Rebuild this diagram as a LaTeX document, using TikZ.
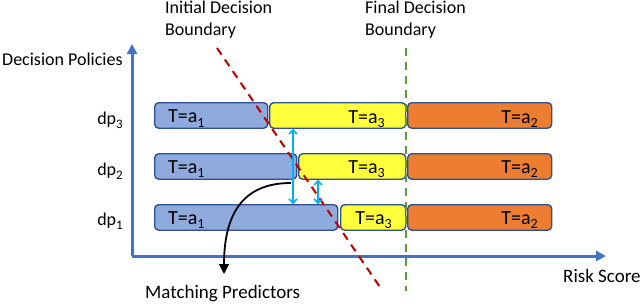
\documentclass[tikz,border=0pt]{standalone}
\usepackage{fontspec}
\setmainfont{Carlito}
\usetikzlibrary{arrows.meta}
\definecolor{boxblue}{HTML}{8FAADC}
\definecolor{boxyellow}{HTML}{FFFF3C}
\definecolor{boxorange}{HTML}{ED7D31}
\definecolor{edgeblue}{HTML}{2F528F}
\definecolor{axisblue}{HTML}{4472C4}
\definecolor{bndred}{HTML}{C00000}
\definecolor{bndgreen}{HTML}{5E9A3C}
\definecolor{arrcyan}{HTML}{00B0F0}
\newcommand{\subA}[1]{\raisebox{-4.5pt}{\fontsize{14}{14}\selectfont #1}}
\newcommand{\subB}[1]{\raisebox{-4pt}{\fontsize{13}{13}\selectfont #1}}
\tikzset{
  seg/.style={draw=edgeblue, line width=1.4pt, rounded corners=4pt, inner sep=0pt,
    anchor=north west, minimum height=25.5pt},
  segblue/.style={seg, fill=boxblue},
  segyellow/.style={seg, fill=boxyellow},
  segorange/.style={seg, fill=boxorange},
  boxtxt/.style={font=\fontsize{20}{22}\selectfont, inner sep=0pt},
  lbltxt/.style={font=\fontsize{18}{22}\selectfont, inner sep=0pt},
  bigtxt/.style={font=\fontsize{19}{22}\selectfont, inner sep=0pt},
  axisline/.style={draw=axisblue, line width=3pt, -{Triangle[length=10pt,width=10pt]}},
  matcharr/.style={draw=arrcyan, line width=1.5pt,
    {Straight Barb[length=4pt,width=8pt]}-{Straight Barb[length=4pt,width=8pt]}},
  bnd/.style={line width=2pt, dash pattern=on 8pt off 6pt},
}
\begin{document}
\begin{tikzpicture}[x=1pt,y=-1pt]
\useasboundingbox (0,0) rectangle (640,303);
% axes
\coordinate (origin) at (132,256);
\coordinate (ytop) at (132,44);
\coordinate (xend) at (606,256);
\draw[axisline] (origin) -- (ytop);
\draw[axisline] (origin) -- (xend);
% boxes dp3
\node[segblue, minimum width=113pt] (b3) at (154,102) {};
\node[segyellow, minimum width=136pt] (y3) at (269,102) {};
\node[segorange, minimum width=144pt] (o3) at (407,102) {};
% boxes dp2
\node[segblue, minimum width=142pt] (b2) at (154,153) {};
\node[segyellow, minimum width=107pt] (y2) at (298,153) {};
\node[segorange, minimum width=144pt] (o2) at (407,153) {};
% boxes dp1
\node[segblue, minimum width=183pt] (b1) at (154,204) {};
\node[segyellow, minimum width=65pt] (y1) at (340,204) {};
\node[segorange, minimum width=144pt] (o1) at (407,204) {};
% box labels
\node[boxtxt, anchor=base west] (tb3) at (168,122.5) {T=a\subA{1}};
\node[boxtxt, anchor=base east] (ty3) at (385,123) {T=a\subA{3}};
\node[boxtxt, anchor=base east] (to3) at (538,123) {T=a\subA{2}};
\node[boxtxt, anchor=base west] (tb2) at (168,173) {T=a\subA{1}};
\node[boxtxt, anchor=base east] (ty2) at (385,173) {T=a\subA{3}};
\node[boxtxt, anchor=base east] (to2) at (538,173) {T=a\subA{2}};
\node[boxtxt, anchor=base west] (tb1) at (168,224) {T=a\subA{1}};
\node[boxtxt, anchor=base east] (ty1) at (392,224) {T=a\subA{3}};
\node[boxtxt, anchor=base east] (to1) at (538,224) {T=a\subA{2}};
% row labels
\node[lbltxt, anchor=base east] (dp3) at (123,124) {dp\subB{3}};
\node[lbltxt, anchor=base east] (dp2) at (123,175) {dp\subB{2}};
\node[lbltxt, anchor=base east] (dp1) at (123,225) {dp\subB{1}};
% texts
\node[lbltxt, anchor=base west] (dpol) at (2,65) {Decision Policies};
\node[lbltxt, anchor=base west, align=left] (ini) at (165,35) {Initial Decision\\Boundary};
\node[lbltxt, anchor=base west, align=left] (fin) at (365,35) {Final Decision\\Boundary};
\node[bigtxt, anchor=base west] (risk) at (563,282) {Risk Score};
\node[bigtxt, anchor=base west] (mp) at (145,298) {Matching Predictors};
% boundaries
\coordinate (r1) at (217,48);
\coordinate (r2) at (382,290);
\coordinate (g1) at (406,48);
\coordinate (g2) at (406,291);
\draw[bnd, bndred] (r1) -- (r2);
\draw[bnd, bndgreen] (g1) -- (g2);
% matching arrows
\draw[matcharr] (293,0 |- y3.south) -- (293,0 |- b1.north);
\draw[matcharr] (318,0 |- y2.south) -- (318,0 |- b1.north);
% pointer to matching predictors
\coordinate (mstart) at (291,183);
\coordinate (mtip) at (224,274);
\draw[line width=1.8pt, -{Triangle[length=10pt,width=10pt]}]
  (mstart) .. controls (255,183) and (224,200) .. (mtip);
\end{tikzpicture}
\end{document}
